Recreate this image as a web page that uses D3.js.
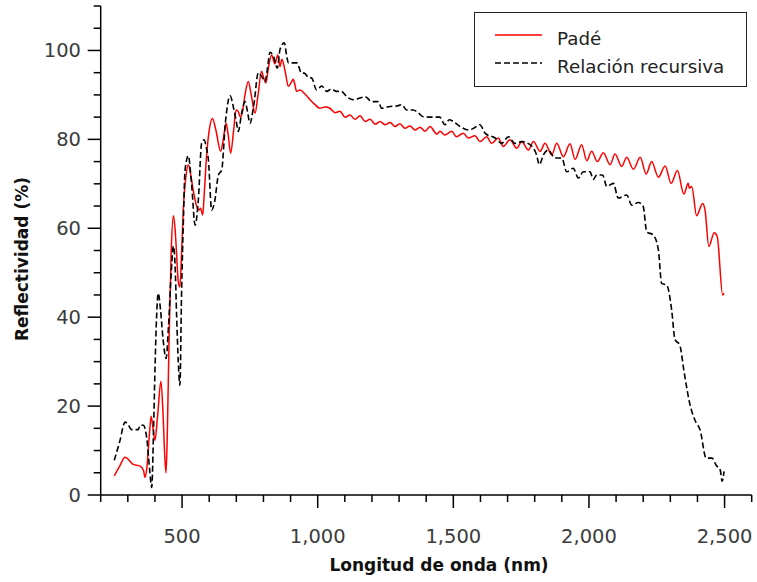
<!DOCTYPE html>
<html><head><meta charset="utf-8">
<script src="https://cdn.jsdelivr.net/npm/d3@7"></script>
<style>body{margin:0;background:#fff}svg{display:block}</style>
</head><body>
<script>
const padeWl=[250,270,290,320,345,358,363,370,380,386,393,400,410,422,430,436,441,446,452,460,468,474,480,486,492,498,505,513,523,532,541,554,563,568,576,582,590,600,612,625,642,652,662,670,679,690,699,707,715,722,732,744,755,769,780,793,800,809,818,830,842,853,861,868,879,892,904,910,916,922,935,953,972,990,1008,1027,1045,1064,1082,1101,1119,1138,1156,1175,1193,1212,1230,1248,1267,1285,1303,1322,1340,1359,1377,1396,1414,1439,1451,1469,1494,1512,1537,1555,1580,1598,1623,1641,1666,1684,1709,1734,1752,1777,1795,1820,1838,1863,1881,1906,1930,1949,1973,1992,2010,2031,2053,2078,2096,2121,2139,2164,2189,2211,2231,2256,2281,2303,2326,2350,2366,2370,2379,2397,2419,2428,2442,2462,2473,2493,2498];
const padeR=[4.3,6.5,8.5,6.9,6.5,5.5,4.0,6,14,17.7,15,12.3,18,25.6,18,9,5.0,15,35,55,62.8,60,54,48,46.8,54,64.9,71,74.3,72,68.6,64.9,64.1,64.5,63,68,76,82,84.7,82,77.3,80,83.6,81,76.9,82,86.6,86.3,85,86,90,93,90,85.9,90,95.3,94,92.7,96,99,97,99,96.4,98,95.6,91.9,93,93.5,92.3,90.8,91.1,90.2,88.9,87.8,87,87.3,87,86,86.3,85,85.5,84.5,85.3,84,84.5,83.4,84,83.3,83.8,82.9,83.5,82.5,83,82.1,82.7,81.8,82.9,81.2,81.8,81,81.8,80.6,81.4,80.3,80.8,79.5,80.6,79.1,80.3,78.4,79.9,78,79.5,77.6,79.5,77.3,79.1,76.5,79.1,76.1,79,75.5,78.8,75.2,77.3,75,77,74.3,76.7,73.9,76,73.3,76,72.2,75,71.5,74,70.1,73,67.7,70.1,69,69.4,62.8,65.6,64.1,55.9,59,58.1,45,45.4];
const recWl=[250,270,290,302,314,339,345,357,370,380,388,395,400,406,412,420,430,441,450,460,468,474,480,486,492,498,505,511,523,535,548,560,572,581,590,597,609,620,634,646,660,677,690,700,707,720,732,742,750,765,781,795,806,815,824,838,851,861,877,885,892,910,923,941,950,965,978,996,1015,1033,1050,1070,1087,1107,1131,1156,1175,1199,1223,1236,1267,1291,1310,1328,1352,1370,1389,1426,1450,1469,1485,1500,1525,1555,1575,1598,1617,1654,1678,1703,1727,1752,1783,1807,1817,1832,1850,1875,1900,1918,1942,1961,1979,2004,2016,2029,2050,2066,2090,2108,2139,2158,2182,2200,2213,2237,2256,2268,2287,2305,2317,2335,2350,2373,2391,2410,2432,2454,2469,2484,2491,2498];
const recR=[7.8,12,16.4,15.7,14.7,14.7,15.7,15.7,12.7,6,1.7,15,28,40,45.4,42,35,30.7,38,50,56,52,40,30,24.7,45,62,73.1,76.3,70,60.7,66.4,79.1,79.9,78,75.4,64.1,66,72,73.1,84,89.8,87,84,81.8,86,88.5,86,83.6,88,95,94,93,96,99.6,98.5,96,100.2,101.7,99,97.2,97.2,97.2,94.9,94.9,94,93.8,91.1,92,90.8,91.3,90.8,90.8,89.6,88.9,89.3,89.6,88.5,88.5,87,87.4,87.5,87.8,86.6,86.6,86,85.1,85,85,83.3,84.4,84,82.9,82.1,82.5,83.3,81.4,80.3,79.1,80.6,79.1,79.5,78.8,76.5,74.3,76.5,77.6,75.8,75.8,72.7,73.5,71.3,72.7,72.7,71,72,72,69.4,70.1,66.8,67.5,65.2,65.8,64.9,59.2,58.5,55.1,47.6,47.2,41.6,35,33.7,28,20.2,16.8,14.6,8.3,8.3,6.7,5.6,3.1,5.3];
const xMajor=[500,1000,1500,2000,2500];
const yMajor=[0,20,40,60,80,100];
const legendLabels=["Padé","Relación recursiva"];

const W=757,H=582;
const svg=d3.select("body").append("svg").attr("width",W).attr("height",H);
const x=d3.scaleLinear().domain([200,2600]).range([100.7,751.7]);
const y=d3.scaleLinear().domain([0,110]).range([495,6]);
const font="DejaVu Sans";

// curves
const line=d3.line().curve(d3.curveMonotoneX);
svg.append("path").attr("d",line(padeWl.map((w,i)=>[x(w),y(padeR[i])])))
  .attr("fill","none").attr("stroke","#ff0000").attr("stroke-width",1.5);
svg.append("path").attr("d",line(recWl.map((w,i)=>[x(w),y(recR[i])])))
  .attr("fill","none").attr("stroke","#000").attr("stroke-width",1.6).attr("stroke-dasharray","6,3");

// axes
const ax=svg.append("g").attr("stroke","#000").attr("stroke-width",1.5);
ax.append("line").attr("x1",x(200)).attr("x2",x(2600)).attr("y1",y(0)).attr("y2",y(0));
ax.append("line").attr("x1",x(200)).attr("x2",x(200)).attr("y1",y(0)).attr("y2",y(110));
d3.range(200,2601,100).forEach(v=>{
  const maj=xMajor.includes(v);
  ax.append("line").attr("x1",x(v)).attr("x2",x(v)).attr("y1",y(0)).attr("y2",y(0)+(maj?13:7));
});
d3.range(0,111,5).forEach(v=>{
  const maj=yMajor.includes(v);
  ax.append("line").attr("y1",y(v)).attr("y2",y(v)).attr("x1",x(200)).attr("x2",x(200)-(maj?13:7));
});
const fmt=d3.format(",");
svg.append("g").selectAll("text").data(xMajor).join("text")
  .attr("x",d=>x(d)).attr("y",543).attr("text-anchor","middle")
  .attr("font-family",font).attr("font-size",19.5).attr("fill","#3c3c3c").text(d=>fmt(d));
svg.append("g").selectAll("text").data(yMajor).join("text")
  .attr("x",81).attr("y",d=>y(d)+7).attr("text-anchor","end")
  .attr("font-family",font).attr("font-size",19.5).attr("fill","#3c3c3c").text(d=>d);
svg.append("text").attr("x",439).attr("y",571).attr("text-anchor","middle")
  .attr("font-family",font).attr("font-weight","bold").attr("font-size",17).attr("fill","#111")
  .text("Longitud de onda (nm)");
svg.append("text").attr("transform","translate(28,259) rotate(-90)").attr("text-anchor","middle")
  .attr("font-family",font).attr("font-weight","bold").attr("font-size",17).attr("fill","#111")
  .text("Reflectividad (%)");

// legend
const lg=svg.append("g");
lg.append("rect").attr("x",474.5).attr("y",12.5).attr("width",272).attr("height",74)
  .attr("fill","#fff").attr("stroke","#222").attr("stroke-width",1);
lg.append("line").attr("x1",495).attr("x2",542).attr("y1",35).attr("y2",35).attr("stroke","#ff0000").attr("stroke-width",1.5);
lg.append("line").attr("x1",495).attr("x2",542).attr("y1",63).attr("y2",63).attr("stroke","#000").attr("stroke-width",1.5).attr("stroke-dasharray","6,3");
lg.selectAll("text").data(legendLabels).join("text")
  .attr("x",557).attr("y",(d,i)=>45+i*28).attr("font-family",font).attr("font-size",18.3).attr("fill","#222").text(d=>d);
</script>
</body></html>
